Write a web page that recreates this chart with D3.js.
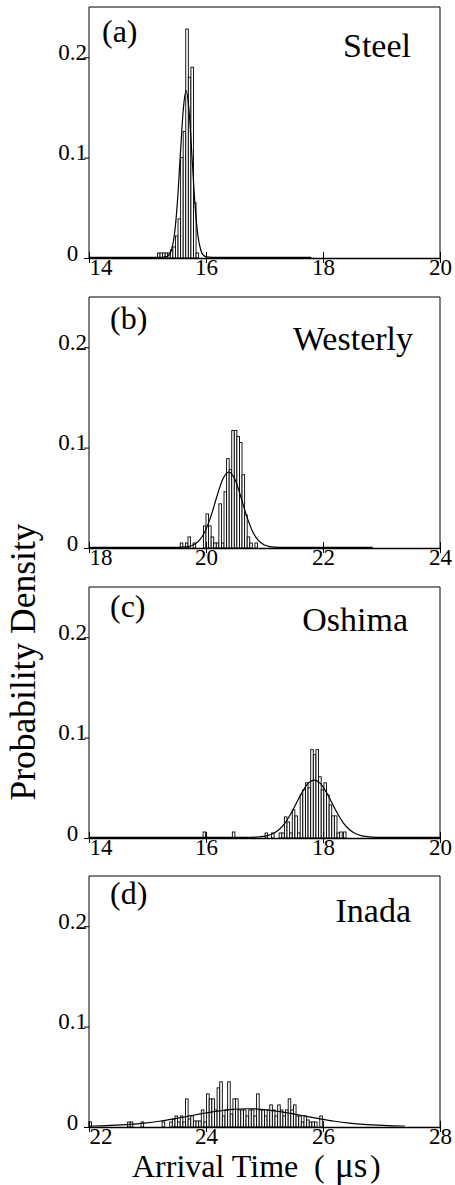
<!DOCTYPE html>
<html><head><meta charset="utf-8">
<script src="https://cdn.jsdelivr.net/npm/d3@7"></script>
<style>
html,body{margin:0;padding:0;background:#fff;}
svg{display:block;font-family:"Liberation Serif","Times New Roman",Times,serif;}
</style>
</head><body>
<svg id="chart" width="455" height="1185"></svg>
<script>
// ---------------- data ----------------
const panelTags  = ["(a)", "(b)", "(c)", "(d)"];
const panelNames = ["Steel", "Westerly", "Oshima", "Inada"];
const xDomains   = [[14, 20], [18, 24], [14, 20], [22, 28]];
const xTickValues = [[14, 16, 18, 20], [18, 20, 22, 24], [14, 16, 18, 20], [22, 24, 26, 28]];
const yTickValues = [0, 0.1, 0.2];
const yTickLabels = ["0", "0.1", "0.2"];
const binWidth = 0.044;

// histogram bins: [bin start (µs), probability]
const steelBins = [
  [15.170,0.005],[15.214,0.005],[15.258,0.005],[15.302,0.005],[15.346,0.005],
  [15.390,0.008],[15.434,0.011],[15.478,0.022],[15.522,0.039],[15.566,0.100],
  [15.610,0.126],[15.654,0.228],[15.698,0.180],[15.742,0.190],[15.786,0.055],
  [15.830,0.005]
];
const westerlyBins = [
  [19.560,0.005],[19.648,0.005],[19.692,0.011],[19.780,0.005],[19.956,0.022],
  [20.000,0.034],[20.044,0.022],[20.088,0.011],[20.132,0.005],[20.176,0.005],
  [20.220,0.044],[20.264,0.005],[20.308,0.056],[20.352,0.089],[20.396,0.078],
  [20.440,0.117],[20.484,0.117],[20.528,0.111],[20.572,0.105],[20.616,0.073],
  [20.660,0.033],[20.704,0.011],[20.748,0.005],[20.836,0.005]
];
const oshimaBins = [
  [15.950,0.006],[16.450,0.006],[17.010,0.005],[17.120,0.005],[17.250,0.005],
  [17.295,0.005],[17.340,0.021],[17.385,0.016],[17.430,0.005],[17.475,0.028],
  [17.520,0.022],[17.565,0.005],[17.610,0.043],[17.655,0.048],[17.700,0.055],
  [17.745,0.050],[17.790,0.088],[17.835,0.083],[17.880,0.088],[17.925,0.061],
  [17.970,0.048],[18.015,0.055],[18.060,0.043],[18.105,0.033],[18.150,0.022],
  [18.195,0.022],[18.240,0.005],[18.285,0.006],[18.350,0.006]
];
const inadaBins = [
  [22.000,0.005],[22.660,0.005],[22.705,0.005],[22.890,0.005],[23.250,0.005],
  [23.380,0.005],[23.425,0.008],[23.470,0.011],[23.515,0.005],[23.560,0.011],
  [23.605,0.005],[23.650,0.028],[23.695,0.008],[23.740,0.011],[23.785,0.006],
  [23.830,0.006],[23.875,0.006],[23.920,0.017],[23.965,0.005],[24.010,0.033],
  [24.055,0.028],[24.100,0.028],[24.145,0.017],[24.190,0.039],[24.235,0.045],
  [24.280,0.011],[24.325,0.017],[24.370,0.045],[24.415,0.013],[24.460,0.028],
  [24.505,0.028],[24.550,0.017],[24.595,0.017],[24.640,0.017],[24.685,0.011],
  [24.730,0.017],[24.775,0.017],[24.820,0.011],[24.865,0.033],[24.910,0.017],
  [24.955,0.017],[25.000,0.011],[25.045,0.017],[25.090,0.022],[25.135,0.017],
  [25.180,0.011],[25.225,0.022],[25.270,0.017],[25.315,0.011],[25.360,0.017],
  [25.405,0.028],[25.450,0.017],[25.495,0.022],[25.540,0.011],[25.585,0.011],
  [25.630,0.005],[25.675,0.011],[25.720,0.007],[25.765,0.005],[25.810,0.005],
  [25.855,0.005],[25.945,0.011]
];

// fitted curves: [time (µs), probability]
const steelFit = [
  [14.0,0],[15.25,0],[15.31,0.0004],[15.36,0.0018],[15.41,0.0073],[15.46,0.0225],
  [15.51,0.054],[15.56,0.101],[15.61,0.146],[15.66,0.166],[15.71,0.146],[15.76,0.101],
  [15.81,0.054],[15.86,0.0225],[15.91,0.0073],[15.96,0.0018],[16.01,0.0004],[16.1,0],[17.8,0]
];
const westerlyFit = [
  [18.0,0],[19.5,0],[19.59,0.0002],[19.69,0.0007],[19.79,0.0025],[19.89,0.0071],
  [19.99,0.0165],[20.09,0.032],[20.19,0.0514],[20.29,0.0682],[20.39,0.075],
  [20.49,0.0682],[20.59,0.0514],[20.69,0.032],[20.79,0.0165],[20.89,0.0071],
  [20.99,0.0025],[21.09,0.0007],[21.19,0.0002],[21.3,0],[22.85,0]
];
const oshimaFit = [
  [14.0,0],[16.7,0],[16.85,0.0002],[16.95,0.0006],[17.05,0.0016],[17.15,0.0037],
  [17.25,0.0077],[17.35,0.0142],[17.45,0.0234],[17.55,0.0346],[17.65,0.0456],
  [17.75,0.0539],[17.85,0.057],[17.95,0.0539],[18.05,0.0456],[18.15,0.0346],
  [18.25,0.0234],[18.35,0.0142],[18.45,0.0077],[18.55,0.0037],[18.65,0.0016],
  [18.75,0.0006],[18.85,0.0002],[19.0,0],[20.0,0]
];
const inadaFit = [
  [22.0,0.0003],[22.2,0.0005],[22.45,0.0011],[22.7,0.0019],[22.95,0.0032],
  [23.2,0.005],[23.45,0.0074],[23.7,0.0101],[23.95,0.0128],[24.2,0.0152],
  [24.45,0.0169],[24.7,0.0175],[24.95,0.0169],[25.2,0.0152],[25.45,0.0128],
  [25.7,0.0101],[25.95,0.0074],[26.2,0.005],[26.45,0.0032],[26.7,0.0019],
  [26.95,0.0011],[27.2,0.0005],[27.4,0.0003]
];

const panelBins = [steelBins, westerlyBins, oshimaBins, inadaBins];
const panelFits = [steelFit, westerlyFit, oshimaFit, inadaFit];

// ---------------- layout ----------------
const serif = "'Liberation Serif','Times New Roman',Times,serif";
const svg = d3.select("#chart");
const left = 89, right = 440, panelH = 251;
const panelTop = [7, 297, 587, 876];
const tagLayout  = [{x:102, dy:35}, {x:110, dy:32}, {x:110, dy:30}, {x:110, dy:28}];
const nameLayout = [{x:411, dy:50}, {x:413, dy:53}, {x:408, dy:44}, {x:411, dy:46}];

panelNames.forEach((name, i) => {
  const top = panelTop[i], bottom = top + panelH;
  const x = d3.scaleLinear().domain(xDomains[i]).range([left, right]);
  const y = d3.scaleLinear().domain([0, 0.25]).range([bottom, top]);
  const g = svg.append("g");

  // bars
  g.append("g").selectAll("rect").data(panelBins[i]).join("rect")
    .attr("x", d => x(d[0]))
    .attr("width", d => x(d[0] + binWidth) - x(d[0]))
    .attr("y", d => y(d[1]))
    .attr("height", d => y(0) - y(d[1]))
    .attr("fill", "#fff")
    .attr("stroke", "#000")
    .attr("stroke-width", 0.9);

  // fitted curve
  const line = d3.line().x(d => x(d[0])).y(d => y(d[1])).curve(d3.curveMonotoneX);
  g.append("path").datum(panelFits[i])
    .attr("d", line)
    .attr("transform", "translate(0,-0.7)")
    .attr("fill", "none")
    .attr("stroke", "#000")
    .attr("stroke-width", 1.2);

  // frame (left, top, right)
  g.append("path")
    .attr("d", `M${left},${bottom}V${top}H${right}V${bottom}`)
    .attr("fill", "none").attr("stroke", "#000").attr("stroke-width", 1);

  // x axis
  const xa = g.append("g").attr("transform", `translate(0,${bottom})`)
    .call(d3.axisBottom(x).tickValues(xTickValues[i]).tickFormat(d3.format("d")).tickSizeOuter(0));
  xa.attr("font-family", serif).attr("font-size", 23);
  xa.select(".domain").attr("stroke-width", 1.3);
  xa.selectAll(".tick line").attr("y1", -6).attr("y2", 5).attr("stroke-width", 1);
  xa.selectAll(".tick text")
    .attr("y", 17).attr("dy", 0)
    .attr("fill", "#000")
    .attr("text-anchor", (d, k) => k === 0 ? "start" : "middle");

  // y axis
  const ya = g.append("g").attr("transform", `translate(${left},0)`)
    .call(d3.axisLeft(y).tickValues(yTickValues).tickFormat((d, k) => yTickLabels[k]).tickSize(5).tickSizeOuter(0));
  ya.attr("font-family", serif).attr("font-size", 23);
  ya.select(".domain").remove();
  ya.selectAll(".tick line").attr("stroke-width", 1);
  ya.selectAll(".tick text")
    .attr("x", -16.5).attr("y", 2).attr("dy", 0)
    .attr("text-anchor", "middle")
    .attr("fill", "#000");

  // labels
  g.append("text").attr("x", tagLayout[i].x).attr("y", top + tagLayout[i].dy)
    .attr("font-size", 32).text(panelTags[i]);
  g.append("text").attr("x", nameLayout[i].x).attr("y", top + nameLayout[i].dy)
    .attr("text-anchor", "end").attr("font-size", 34).text(name);
});

// axis titles
svg.append("text")
  .attr("transform", "translate(35,662) rotate(-90)")
  .attr("text-anchor", "middle")
  .attr("font-size", 35.5)
  .text("Probability Density");

const xt = svg.append("text").attr("y", 1177).attr("font-size", 32);
xt.append("tspan").attr("x", 132).text("Arrival Time");
xt.append("tspan").attr("x", 314).text("(");
xt.append("tspan").attr("x", 335).attr("font-size", 35).text("μs");
xt.append("tspan").attr("x", 370).text(")");
</script>
</body></html>
